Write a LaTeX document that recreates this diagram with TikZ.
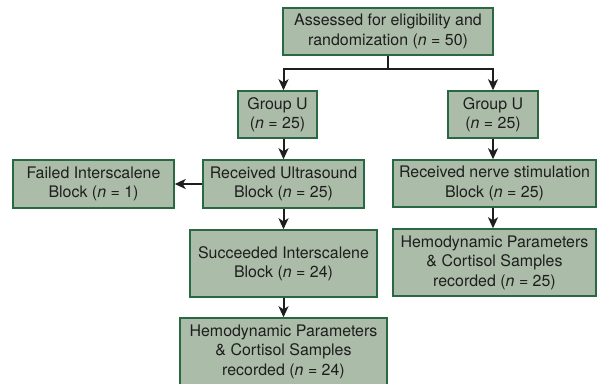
\documentclass[tikz,border=0pt]{standalone}
\usepackage{fontspec}
\setmainfont{TeX Gyre Heros}
\usetikzlibrary{arrows.meta}
\definecolor{boxfill}{RGB}{171,188,168}
\definecolor{boxdraw}{RGB}{40,104,66}
\definecolor{ink}{RGB}{30,30,30}
\tikzset{
  box/.style={draw=boxdraw, fill=boxfill, line width=1.5pt, inner sep=0pt, align=center,
    text=ink, font=\fontsize{16}{19.5}\selectfont},
  link/.style={draw=ink, line width=2pt},
  arr/.style={link, -{Stealth[length=11pt,width=10pt,inset=3pt]}},
}
\begin{document}
\begin{tikzpicture}[x=1bp,y=-1bp]
\useasboundingbox (0,0) rectangle (597,383);
\clip (0,0) rectangle (597,383);
\node[box, minimum width=210bp, minimum height=47bp] (top) at (388,31.5)
  {Assessed for eligibility and\\randomization (\textit{n} = 50)};
\node[box, minimum width=79bp, minimum height=47bp] (gl) at (277.5,114.5)
  {Group U\\(\textit{n} = 25)};
\node[box, minimum width=90bp, minimum height=47bp] (gr) at (493,114.5)
  {Group U\\(\textit{n} = 25)};
\node[box, minimum width=161bp, minimum height=48bp] (fail) at (93.5,184)
  {Failed Interscalene\\Block (\textit{n} = 1)};
\node[box, minimum width=161bp, minimum height=48bp] (rus) at (283.5,184)
  {Received Ultrasound\\Block (\textit{n} = 25)};
\node[box, minimum width=203bp, minimum height=47bp] (rns) at (494.5,183.5)
  {Received nerve stimulation\\Block (\textit{n} = 25)};
\node[box, minimum width=187bp, minimum height=67bp] (succ) at (283.5,263.5)
  {Succeeded Interscalene\\Block (\textit{n} = 24)};
\node[box, minimum width=207bp, minimum height=67bp] (hl) at (283.5,351.5)
  {Hemodynamic Parameters\\\& Cortisol Samples\\recorded (\textit{n} = 24)};
\node[box, minimum width=203bp, minimum height=67bp] (hr) at (494.5,262.5)
  {Hemodynamic Parameters\\\& Cortisol Samples\\recorded (\textit{n} = 25)};
\draw[link] (top.south) -- ++(0,13) coordinate (sp);
\draw[arr] (sp) -| (gl.north -| rus.north);
\draw[arr] (sp) -| (gr.north);
\draw[arr] (gl.south -| rus.north) -- (rus.north);
\draw[arr] (rus.west) -- (fail.east);
\draw[arr] (rus.south) -- (succ.north);
\draw[arr] (succ.south) -- (hl.north);
\draw[arr] (gr.south) -- (rns.north -| gr.south);
\draw[arr] (rns.south -| gr.south) -- (hr.north -| gr.south);
\end{tikzpicture}
\end{document}
